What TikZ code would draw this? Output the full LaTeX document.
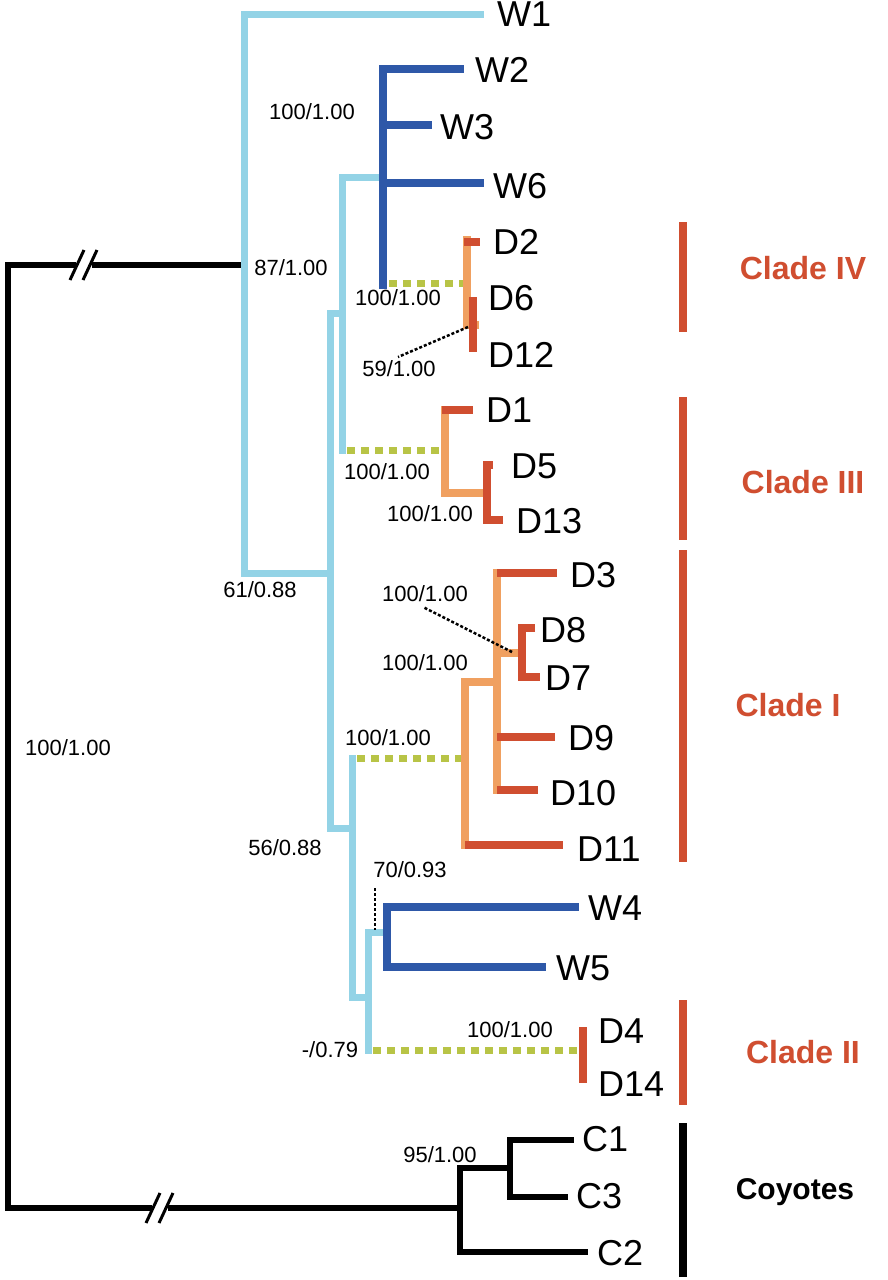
\documentclass[tikz,border=0pt]{standalone}
\usepackage{fontspec}
\setmainfont{Liberation Sans}
\begin{document}
\begin{tikzpicture}[x=1pt,y=-1pt,
  lb/.style={draw={rgb,255:red,147;green,211;blue,230},line width=7pt,line join=miter,line cap=rect},
  bl/.style={draw={rgb,255:red,46;green,88;blue,168},line width=7.5pt,line join=miter,line cap=rect},
  og/.style={draw={rgb,255:red,240;green,160;blue,96},line width=7.5pt,line join=miter,line cap=rect},
  rd/.style={draw={rgb,255:red,208;green,78;blue,48},line width=7.5pt,line join=miter},
  gd/.style={draw={rgb,255:red,184;green,196;blue,70},line width=7pt,dash pattern=on 8pt off 6pt},
  bk/.style={draw=black,line width=6pt,line join=miter,line cap=rect},
  dt/.style={draw=black,line width=2.5pt,dash pattern=on 3pt off 2pt},
  leaf/.style={anchor=west,inner sep=0pt,font=\fontsize{36}{36}\selectfont},
  sup/.style={inner sep=0pt,font=\fontsize{22}{22}\selectfont},
  clade/.style={inner sep=0pt,font=\fontsize{32}{32}\selectfont\bfseries,text={rgb,255:red,208;green,78;blue,48}},
  cbar/.style={draw={rgb,255:red,208;green,78;blue,48},line width=8pt}]
\useasboundingbox (0,0) rectangle (888,1280);
\fill[white] (0,0) rectangle (888,1280);

% internal node coordinates
\coordinate (root) at (8,265);
\coordinate (nA) at (244,265);
\coordinate (nB) at (330,573);
\coordinate (nC) at (342,313);
\coordinate (nW) at (383,177);
\coordinate (nD) at (352,828);
\coordinate (nE) at (368,997);
\coordinate (nF) at (387,932);
\coordinate (nC4) at (467,283);
\coordinate (nC3) at (445,450);
\coordinate (nC1) at (465,758);
\coordinate (nC2) at (583,1050);
\coordinate (nCoy) at (460,1208);

% leaves
\node[leaf] (W1) at (497,14) {W1};
\node[leaf] (W2) at (475,70) {W2};
\node[leaf] (W3) at (440,127) {W3};
\node[leaf] (W6) at (493,186) {W6};
\node[leaf] (D2) at (493,242) {D2};
\node[leaf] (D6) at (488,298) {D6};
\node[leaf] (D12) at (488,355) {D12};
\node[leaf] (D1) at (486,410) {D1};
\node[leaf] (D5) at (511,466) {D5};
\node[leaf] (D13) at (516,521) {D13};
\node[leaf] (D3) at (570,575) {D3};
\node[leaf] (D8) at (540,630) {D8};
\node[leaf] (D7) at (545,678) {D7};
\node[leaf] (D9) at (568,738) {D9};
\node[leaf] (D10) at (550,793) {D10};
\node[leaf] (D11) at (577,849) {D11};
\node[leaf] (W4) at (588,908) {W4};
\node[leaf] (W5) at (556,968) {W5};
\node[leaf] (D4) at (598,1031) {D4};
\node[leaf] (D14) at (598,1084) {D14};
\node[leaf] (C1) at (582,1139) {C1};
\node[leaf] (C3) at (576,1196) {C3};
\node[leaf] (C2) at (597,1253) {C2};

% black root
\draw[bk] (nA) -- (root) -- (8,1208) -- (nCoy);
\draw[bk] (460,1168) -- (460,1252) -- (585,1252);
\draw[bk] (460,1168) -- (510,1168);
\draw[bk] (571,1140) -- (510,1140) -- (510,1197) -- (565,1197);
% break marks
\fill[white] (76,258) rectangle (92,272);
\draw[black,line width=3pt] (70,280) -- (84,250);
\draw[black,line width=3pt] (83,280) -- (97,250);
\fill[white] (152,1201) rectangle (168,1215);
\draw[black,line width=3pt] (146,1223) -- (160,1193);
\draw[black,line width=3pt] (159,1223) -- (173,1193);

% light blue backbone
\draw[lb] (480,14) -- (244,14) -- (244,573) -- (nB);
\draw[lb] (342,313) -- (330,313) -- (330,828) -- (nD);
\draw[lb] (383,177) -- (342,177) -- (342,450);
\draw[lb] (352,758) -- (352,997) -- (nE);
\draw[lb] (387,932) -- (368,932) -- (368,1050);

% blue W clusters
\draw[bl] (460,69) -- (383,69) -- (383,285);
\draw[bl] (383,125) -- (428,125);
\draw[bl] (383,183) -- (480,183);
\draw[bl] (575,907) -- (387,907) -- (387,967) -- (542,967);

% green dashed
\draw[gd] (389,283) -- (463,283);
\draw[gd] (347,450) -- (442,450);
\draw[gd] (357,758) -- (462,758);
\draw[gd] (373,1050) -- (580,1050);

% Clade IV
\draw[og] (475,325) -- (467,325) -- (467,240);
\draw[rd] (464,242) -- (480,242);
\draw[rd] (473,297) -- (473,352);
% Clade III
\draw[og] (445,410) -- (445,493) -- (487,493);
\draw[rd] (442,410) -- (473,410);
\draw[rd] (493,465) -- (487,465) -- (487,520) -- (503,520);
% Clade I
\draw[og] (465,845) -- (465,682) -- (497,682);
\draw[rd] (465,845) -- (563,845);
\draw[og] (497,573) -- (497,790);
\draw[og] (497,653) -- (522,653);
\draw[rd] (497,573) -- (557,573);
\draw[rd] (535,628) -- (522,628) -- (522,677) -- (540,677);
\draw[rd] (497,737) -- (555,737);
\draw[rd] (497,790) -- (538,790);
% Clade II
\draw[rd] (583,1027) -- (583,1083);

% dotted pointers
\draw[dt] (468,327) -- (398,357);
\draw[dt] (512,652) -- (423,607);
\draw[dt] (375,888) -- (375,930);

% support values
\node[sup] (s1) at (312,112) {100/1.00};
\node[sup] (s2) at (291,268) {87/1.00};
\node[sup] (s3) at (398,298) {100/1.00};
\node[sup] (s4) at (399,369) {59/1.00};
\node[sup] (s5) at (387,472) {100/1.00};
\node[sup] (s6) at (430,514) {100/1.00};
\node[sup] (s7) at (260,590) {61/0.88};
\node[sup] (s8) at (425,594) {100/1.00};
\node[sup] (s9) at (425,663) {100/1.00};
\node[sup] (s10) at (388,738) {100/1.00};
\node[sup] (s11) at (68,748) {100/1.00};
\node[sup] (s12) at (285,848) {56/0.88};
\node[sup] (s13) at (410,870) {70/0.93};
\node[sup] (s14) at (330,1050) {-/0.79};
\node[sup] (s15) at (510,1030) {100/1.00};
\node[sup] (s16) at (440,1155) {95/1.00};

% clade bars and labels
\draw[cbar] (683,222) -- (683,332);
\draw[cbar] (683,397) -- (683,540);
\draw[cbar] (683,550) -- (683,862);
\draw[cbar] (683,1000) -- (683,1105);
\draw[black,line width=8pt] (683,1123) -- (683,1277);
\node[clade] (L4) at (803,268) {Clade IV};
\node[clade] (L3) at (803,482) {Clade III};
\node[clade] (L1) at (788,705) {Clade I};
\node[clade] (L2) at (803,1052) {Clade II};
\node[inner sep=0pt,font=\fontsize{30}{30}\selectfont\bfseries] (L0) at (795,1192) {Coyotes};
\end{tikzpicture}
\end{document}
